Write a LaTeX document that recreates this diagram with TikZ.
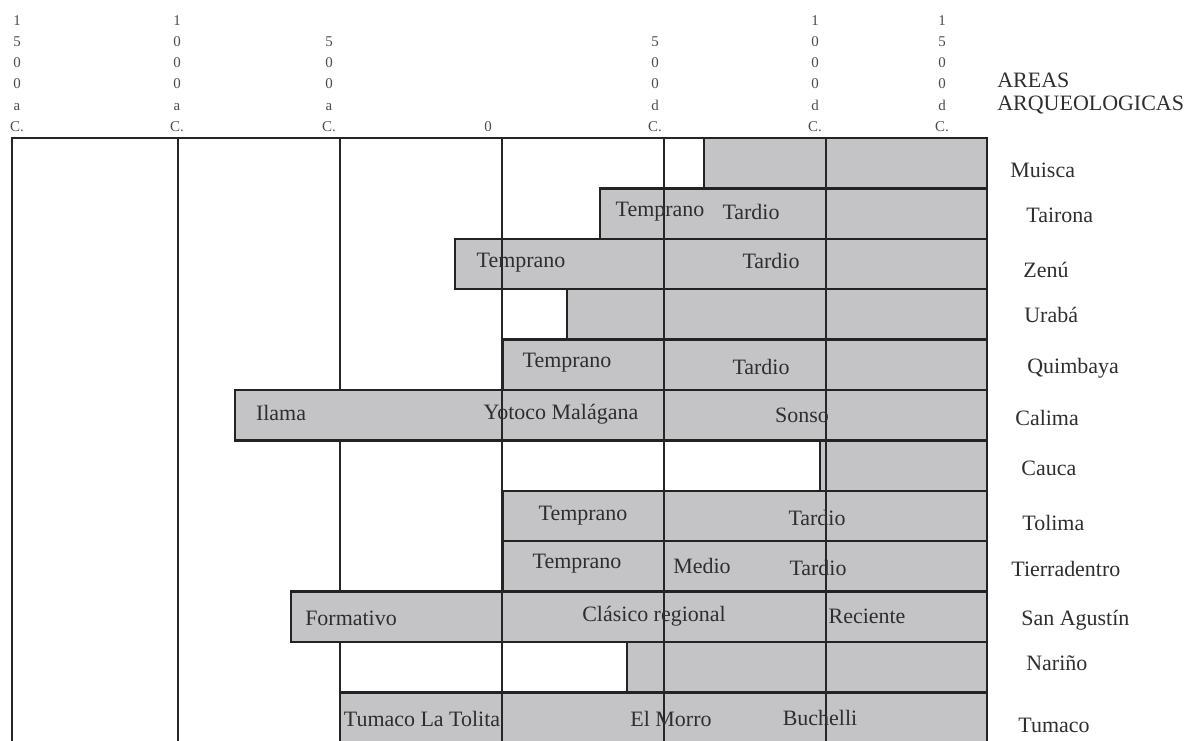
\documentclass[tikz,border=0pt]{standalone}
\usepackage{fontspec}
\setmainfont{Liberation Serif}
\definecolor{bargrey}{RGB}{196,196,199}
\definecolor{inkgrey}{RGB}{35,35,35}

\begin{document}
\begin{tikzpicture}[x=0.02cm,y=-0.02cm,
  bar/.style={fill=bargrey,draw=inkgrey,line width=1.3pt},
  grid/.style={draw=black!85,line width=0.85pt},
  period/.style={font=\fontsize{12.5}{14}\selectfont,text=black!82,inner sep=0pt},
  area/.style={font=\fontsize{12.5}{14}\selectfont,text=black!82,anchor=west,inner sep=0pt},
  year/.style={font=\fontsize{8.5}{12.1}\selectfont,text=black!70,align=center,anchor=south,inner sep=0pt}]
\useasboundingbox (0,0) rectangle (1192,740);

% time scale
\node[year] (y1500a) at (17,132) {1\\5\\0\\0\\a\\C.};
\node[year] (y1000a) at (177,132) {1\\0\\0\\0\\a\\C.};
\node[year] (y500a) at (329,132) {5\\0\\0\\a\\C.};
\node[year] (y0) at (488,132) {0};
\node[year] (y500d) at (655,132) {5\\0\\0\\d\\C.};
\node[year] (y1000d) at (815,132) {1\\0\\0\\0\\d\\C.};
\node[year] (y1500d) at (942,132) {1\\5\\0\\0\\d\\C.};
\node[area] (areas) at (997,80) {AREAS};
\node[area] (arqueo) at (997,105) {ARQUEOLOGICAS};

% frame and lines under the bars
\draw[grid] (12,745) -- (12,138) -- (987,138);
\draw[grid] (178,138) -- (178,745);
\draw[grid] (340,138) -- (340,745);

% bars
\draw[bar] (704,138) rectangle (987,188.4);
\draw[bar] (600,188.4) rectangle (987,238.8);
\draw[bar] (455,238.8) rectangle (987,289.2);
\draw[bar] (567,289.2) rectangle (987,339.6);
\draw[bar] (503,339.6) rectangle (987,390);
\draw[bar] (235,390) rectangle (987,440.4);
\draw[bar] (820,440.4) rectangle (987,490.8);
\draw[bar] (503,490.8) rectangle (987,541.2);
\draw[bar] (503,541.2) rectangle (987,591.6);
\draw[bar] (291,591.6) rectangle (987,642);
\draw[bar] (627,642) rectangle (987,692.4);
\draw[bar] (340,692.4) rectangle (987,742.8);

% lines over the bars
\draw[grid] (502,138) -- (502,745);
\draw[grid] (664,138) -- (664,745);
\draw[grid] (826,138) -- (826,745);

% periods
\node[period] (taiA) at (660,212) {Temprano};
\node[period] (taiB) at (751,212) {Tardio};
\node[period] (zenA) at (521,263) {Temprano};
\node[period] (zenB) at (771,261) {Tardio};
\node[period] (quiA) at (567,363) {Temprano};
\node[period] (quiB) at (761,367) {Tardio};
\node[period] (calA) at (281,413) {Ilama};
\node[period] (calB) at (561,414) {Yotoco Malágana};
\node[period] (calC) at (802,415) {Sonso};
\node[period] (tolA) at (583,516) {Temprano};
\node[period] (tolB) at (817,518) {Tardio};
\node[period] (tieA) at (577,564) {Temprano};
\node[period] (tieB) at (702,566) {Medio};
\node[period] (tieC) at (818,568) {Tardio};
\node[period] (sagA) at (351,618) {Formativo};
\node[period] (sagB) at (654,616) {Clásico regional};
\node[period] (sagC) at (867,616) {Reciente};
\node[period] (tumA) at (422,719) {Tumaco La Tolita};
\node[period] (tumB) at (671,719) {El Morro};
\node[period] (tumC) at (820,718) {Buchelli};

% areas
\node[area] (muisca) at (1010,170) {Muisca};
\node[area] (tairona) at (1026,215) {Tairona};
\node[area] (zenu) at (1023,270) {Zenú};
\node[area] (uraba) at (1024,315) {Urabá};
\node[area] (quimbaya) at (1027,368) {Quimbaya};
\node[area] (calima) at (1015,418) {Calima};
\node[area] (cauca) at (1021,468) {Cauca};
\node[area] (tolima) at (1022,523) {Tolima};
\node[area] (tierra) at (1011,569) {Tierradentro};
\node[area] (sanagustin) at (1021,620) {San Agustín};
\node[area] (narino) at (1026,663) {Nariño};
\node[area] (tumaco) at (1018,725) {Tumaco};

\end{tikzpicture}
\end{document}
